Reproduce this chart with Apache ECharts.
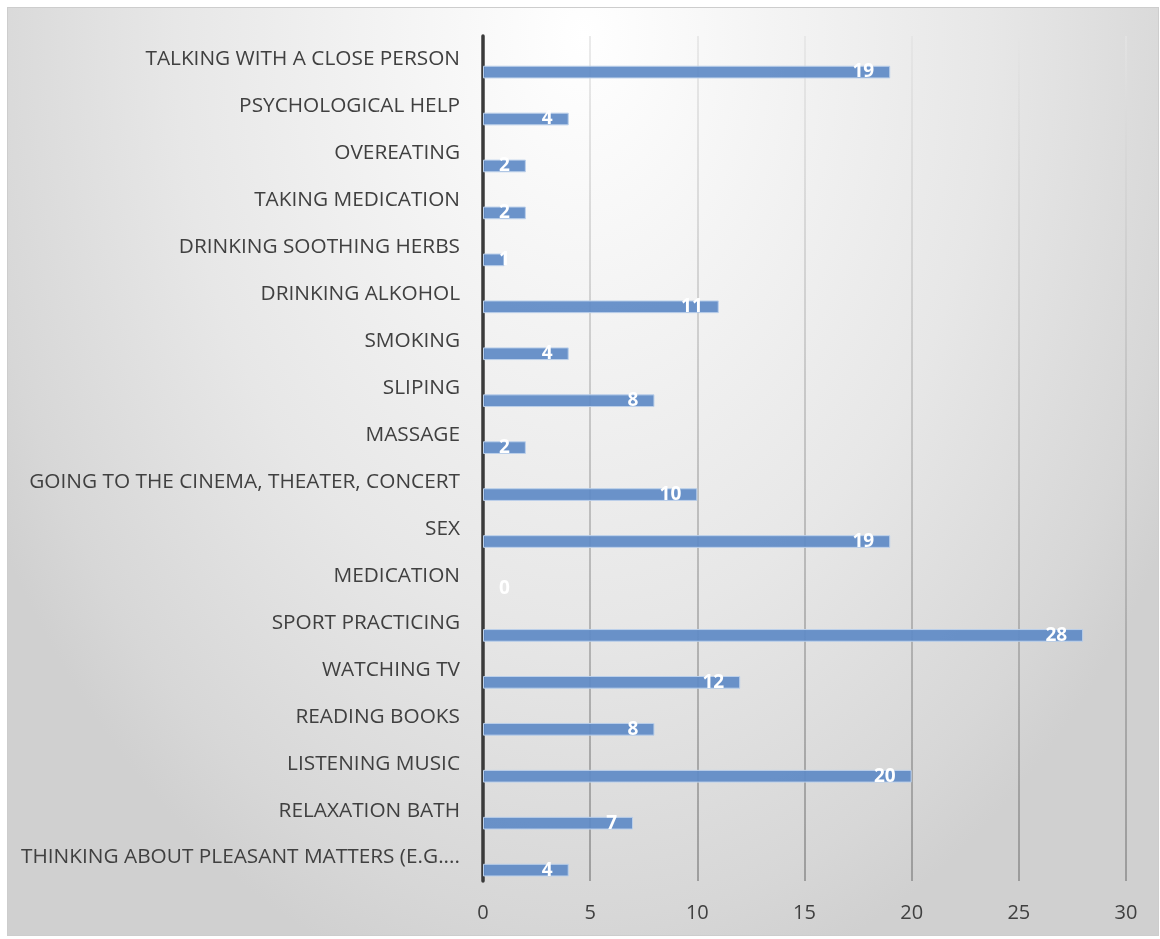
<!DOCTYPE html>
<html>
<head>
<meta charset="utf-8">
<script src="https://cdn.jsdelivr.net/npm/echarts@6/dist/echarts.min.js"></script>
<style>
  html, body { margin: 0; padding: 0; background: #ffffff; }
  #frame {
    position: absolute; left: 7px; top: 7px; width: 1150px; height: 927px;
    border: 1px solid #cdcdcd;
    background: radial-gradient(ellipse 680px 980px at 50% 3%, #ffffff 0%, #f5f5f5 25%, #e7e7e7 60%, #d7d7d7 90%, #d0d0d0 100%);
  }
  #chart { position: absolute; left: 0; top: 0; width: 1160px; height: 939px; }
</style>
</head>
<body>
<div id="frame"></div>
<div id="chart"></div>
<script>
// Ways of coping with stress, listed top to bottom
const categories = [
  'TALKING WITH A CLOSE PERSON',
  'PSYCHOLOGICAL HELP',
  'OVEREATING',
  'TAKING MEDICATION',
  'DRINKING SOOTHING HERBS',
  'DRINKING ALKOHOL',
  'SMOKING',
  'SLIPING',
  'MASSAGE',
  'GOING TO THE CINEMA, THEATER, CONCERT',
  'SEX',
  'MEDICATION',
  'SPORT PRACTICING',
  'WATCHING TV',
  'READING BOOKS',
  'LISTENING MUSIC',
  'RELAXATION BATH',
  'THINKING ABOUT PLEASANT MATTERS (E.G....'
];
const counts = [19, 4, 2, 2, 1, 11, 4, 8, 2, 10, 19, 0, 28, 12, 8, 20, 7, 4];
const xTicks = { min: 0, max: 30, interval: 5 };

const textColor = '#404040';
const font = '"Open Sans", "DejaVu Sans", sans-serif';
const tickFont = '"Liberation Sans Narrow", "Open Sans", sans-serif';

// short bars get their label pinned near the axis instead of the bar end
const barData = counts.map(v => ({
  value: v,
  label: { position: v <= 1 ? 'insideLeft' : 'insideRight' },
  itemStyle: v === 0 ? { borderWidth: 0 } : {}
}));

const chart = echarts.init(document.getElementById('chart'), null, { renderer: 'canvas' });
chart.setOption({
  backgroundColor: 'transparent',
  animation: false,
  grid: { left: 483, top: 36, width: 643, height: 845, containLabel: false },
  xAxis: {
    type: 'value',
    min: xTicks.min, max: xTicks.max, interval: xTicks.interval,
    axisLine: { show: false },
    axisTick: { show: false },
    axisLabel: { color: textColor, fontSize: 20, fontFamily: tickFont, margin: 22 },
    splitLine: {
      show: true,
      lineStyle: {
        width: 1.5,
        color: {
          type: 'linear', x: 0, y: 36, x2: 0, y2: 881, global: true,
          colorStops: [
            { offset: 0, color: '#e4e4e4' },
            { offset: 0.5, color: '#b4b4b4' },
            { offset: 1, color: '#8a8a8a' }
          ]
        }
      }
    }
  },
  yAxis: {
    type: 'category',
    data: categories,
    inverse: true,
    axisLine: { show: true, lineStyle: { color: '#3a3a3a', width: 3.5 } },
    axisTick: { show: false },
    axisLabel: { color: textColor, fontSize: 20.8, fontFamily: font, margin: 23, interval: 0 },
    splitLine: { show: false }
  },
  series: [
    {
      name: 'spacer',
      type: 'bar',
      data: counts.map(() => null),
      barWidth: 25.2,
      barGap: '0%',
      silent: true,
      itemStyle: { color: 'transparent' }
    },
    {
      name: 'Count',
      type: 'bar',
      data: barData,
      barWidth: 12.7,
      barGap: '0%',
      itemStyle: { color: 'rgba(94,138,197,0.92)', borderColor: '#bcd0ea', borderWidth: 1 },
      label: {
        show: true,
        distance: 16,
        color: '#ffffff',
        fontWeight: 'bold',
        fontSize: 19,
        fontFamily: font
      }
    }
  ]
});
</script>
</body>
</html>
